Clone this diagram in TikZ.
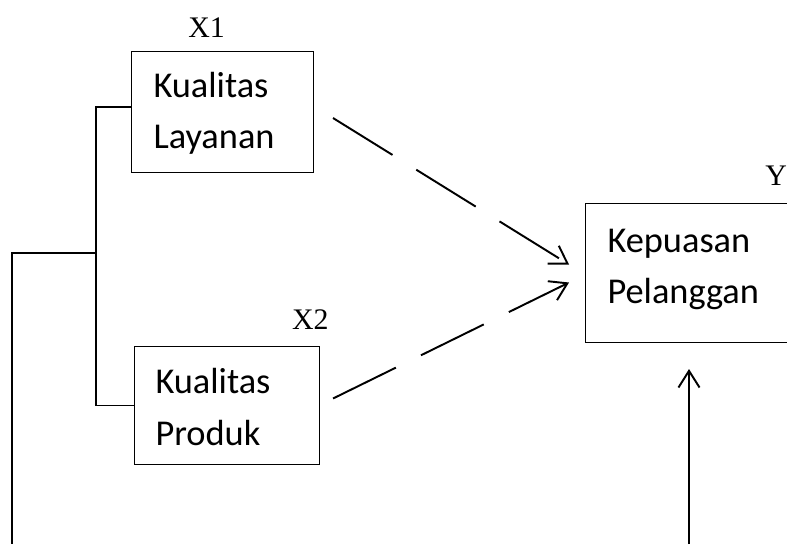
\documentclass[tikz,border=0pt]{standalone}
\usepackage{fontspec}
\usepackage{tikz}
\usetikzlibrary{arrows,arrows.meta}
\usetikzlibrary{calc,positioning}
\newfontfamily\boxfont{Carlito}
\newfontfamily\labelfont{Liberation Serif}

\begin{document}
\begin{tikzpicture}[x=0.02cm,y=-0.02cm]
	
	% Definitions.
	\tikzstyle{factor}=[
		draw,
		line width=0.6pt,
		anchor=north west,
		align=left,
		inner ysep=0pt,
		text height=14pt,
		font=\boxfont\fontsize{20.7}{29.3}\selectfont
	]
	\tikzstyle{varlabel}=[
		inner sep=0pt,
		font=\labelfont\fontsize{17}{20}\selectfont
	]
	\tikzstyle{link}=[line width=0.9pt]
	\tikzstyle{effect}=[line width=1.1pt, dash pattern=on 1.4cm off 0.56cm]
	\def\myarrow{Straight Barb[width=12pt,length=9.5pt]}
	
	% Page; the Y box runs off the right edge.
	\clip (0,0) rectangle (787,544);
	
	% ---------------- Boxes -----------------
	
	\node[factor, text width=2.76cm, inner xsep=0.44cm, minimum height=2.42cm, text depth=30.8pt] (x1) at (131,51) {Kualitas\\Layanan};
	\node[factor, text width=2.86cm, inner xsep=0.42cm, minimum height=2.36cm, text depth=27.3pt] (x2) at (134,346) {Kualitas\\Produk};
	\node[factor, text width=3.52cm, inner xsep=0.44cm, minimum height=2.78cm, text depth=37.6pt] (y) at (585,203) {Kepuasan\\Pelanggan};
	
	% Labels.
	\node[varlabel, anchor=base] (x1label) at ([shift={(-16,-13.7)}]x1.north) {X1};
	\node[varlabel, anchor=base east] (x2label) at ([shift={(9,-17)}]x2.north east) {X2};
	\node[varlabel, anchor=base west] (ylabel) at ([shift={(180,-18)}]y.north west) {Y};
	
	% ------------ Bracket and Loop ------------
	
	\coordinate (split) at (96,253);
	\coordinate (loopL) at (12,544);
	\coordinate (loopR) at (689,544);
	
	\draw[link] ([yshift=3pt]x1.west) -- ([yshift=3pt]x1.west -| split) -- (x2.west -| split) -- (x2.west);
	\draw[link] (split) -| (loopL);
	\draw[line width=1.1pt, -{\myarrow}, shorten >=0.52cm] (loopR) -- (loopR |- y.south);
	
	% ---------------- Effects -----------------
	
	\draw[effect, -{\myarrow}] ([shift={(19,6)}]x1.east) -- ([shift={(-16,-8.5)}]y.west);
	\draw[effect, -{\myarrow}] ([shift={(13,-7)}]x2.east) -- ([shift={(-16,9.5)}]y.west);
	
\end{tikzpicture}
\end{document}
